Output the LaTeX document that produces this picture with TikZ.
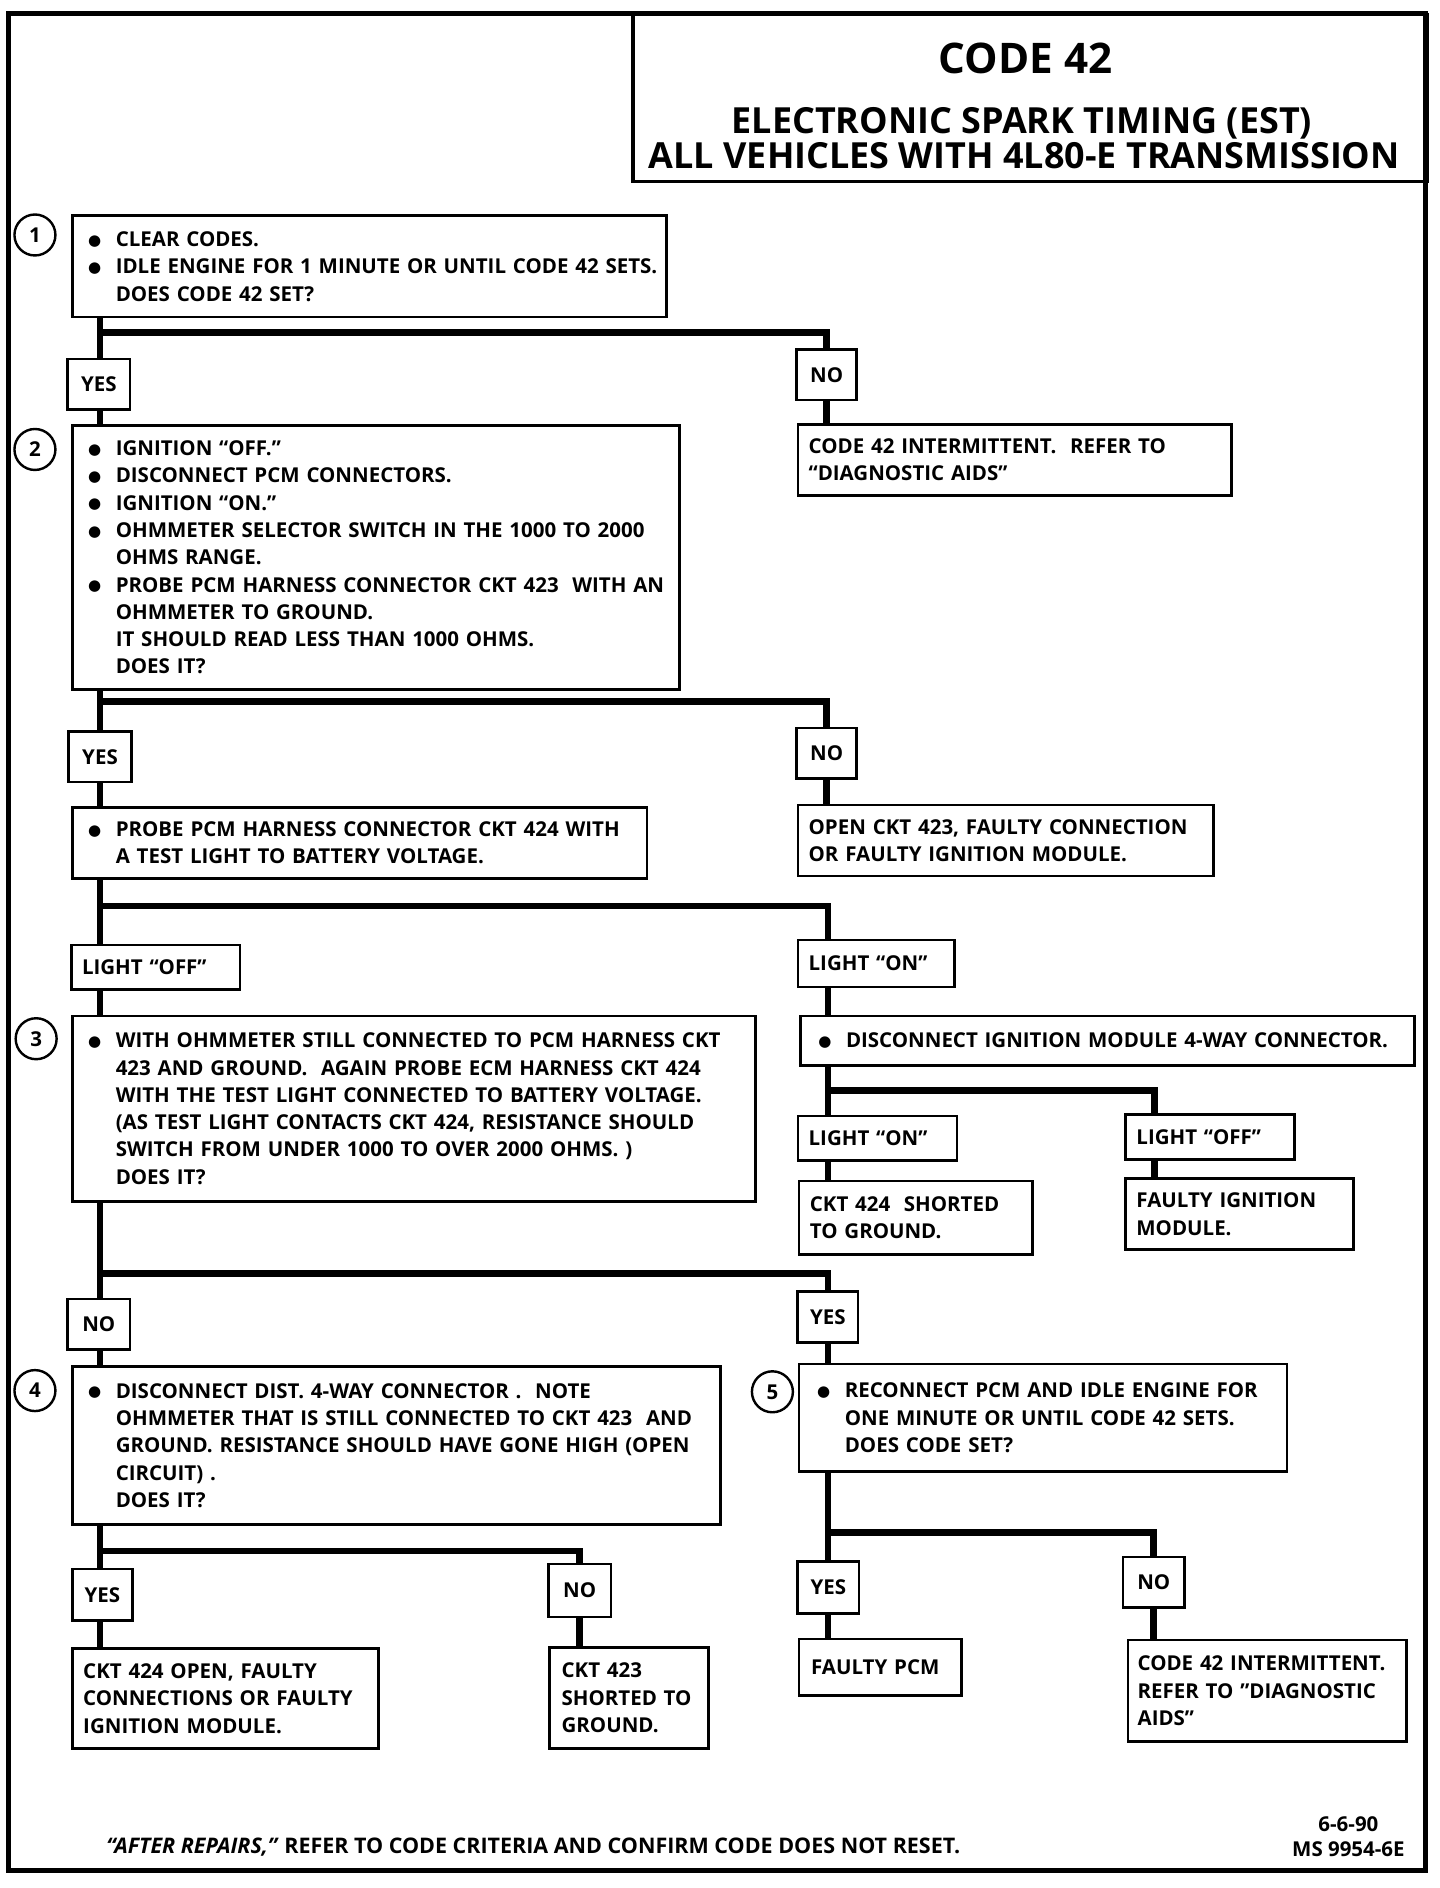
\documentclass[tikz,border=0pt]{standalone}
\usepackage{fontspec}
\setmainfont{Open Sans}
\newfontfamily\dejavu{DejaVu Sans}
\newcommand\bodyfont{\fontsize{10.2}{13.6}\selectfont\bfseries}
\newcommand\bigdot{\raisebox{0.6pt}{\dejavu\fontsize{7.5}{7.5}\selectfont ●}}
\newcommand\bl[1]{\mbox{\makebox[13.8pt][l]{\bigdot}#1}}
\newcommand\ct[1]{\mbox{\hspace*{13.8pt}#1}}
\tikzset{
 box/.style={draw, line width=1.3pt, rectangle, inner ysep=0pt, align=left, font=\bodyfont},
 lab/.style={draw, line width=1.3pt, rectangle, inner sep=0pt, align=center, font=\bodyfont},
 num/.style={draw, circle, line width=1.2pt, minimum size=20.4pt, inner sep=0pt, font=\bodyfont},
 conn/.style={line width=3.3pt, line cap=butt, line join=miter},
 frame/.style={line width=2.6pt},
}
% name, x1, y1, x2, y2, inset, text
\newcommand\mkbox[7]{%
 \pgfmathsetmacro\bw{(#4-#2)*0.6}\pgfmathsetmacro\bh{(#5-#3)*0.6}%
 \pgfmathsetmacro\tw{(#4-#2-2*#6)*0.6}\pgfmathsetmacro\ti{#6*0.6}%
 \node[box, anchor=north west, minimum width=\bw pt, minimum height=\bh pt,
   text width=\tw pt, inner xsep=\ti pt] (#1) at (#2,#3) {#7};}
\newcommand\mklab[6]{%
 \pgfmathsetmacro\bw{(#4-#2)*0.6}\pgfmathsetmacro\bh{(#5-#3)*0.6}%
 \node[lab, minimum width=\bw pt, minimum height=\bh pt] (#1) at ({(#2+#4)/2},{(#3+#5)/2}) {#6};}
\begin{document}
\begin{tikzpicture}[x=0.6pt,y=-0.6pt]
\useasboundingbox (0,0) rectangle (1195,1566.8);
% frame and title
\draw[frame] (7,11) rectangle (1183,1552);
\node[draw, line width=1.6pt, anchor=north west, minimum width={659*0.6pt}, minimum height={138*0.6pt}, inner sep=0pt] (titlebox) at (524,11) {};
\node[anchor=base, font=\fontsize{21}{24}\selectfont\bfseries] (t1) at (851,61) {CODE 42};
\node[anchor=base, font=\fontsize{17.9}{20}\selectfont\bfseries] (t2) at (848,110.5) {ELECTRONIC SPARK TIMING (EST)};
\node[anchor=base, font=\fontsize{17.9}{20}\selectfont\bfseries] (t3) at (850,139.5) {ALL VEHICLES WITH 4L80-E TRANSMISSION};

% step numbers
\node[num] (c1) at (29,195) {1};
\node[num] (c2) at (29,373) {2};
\node[num] (c3) at (30,862) {3};
\node[num] (c4) at (29,1154) {4};
\node[num] (c5) at (641,1155) {5};

% step boxes
\mkbox{b1}{59}{178}{552}{262}{13}{\bl{CLEAR CODES.}\\\bl{IDLE ENGINE FOR 1 MINUTE OR UNTIL CODE 42 SETS.}\\\ct{DOES CODE 42 SET?}}
\mkbox{b2}{59}{352}{563}{571}{13}{\bl{IGNITION “OFF.”}\\\bl{DISCONNECT PCM CONNECTORS.}\\\bl{IGNITION “ON.”}\\\bl{OHMMETER SELECTOR SWITCH IN THE 1000 TO 2000}\\\ct{OHMS RANGE.}\\\bl{PROBE PCM HARNESS CONNECTOR CKT 423\ \ WITH AN}\\\ct{OHMMETER TO GROUND.}\\\ct{IT SHOULD READ LESS THAN 1000 OHMS.}\\\ct{DOES IT?}}
\mkbox{b3}{59}{669}{536}{728}{13}{\bl{PROBE PCM HARNESS CONNECTOR CKT 424 WITH}\\\ct{A TEST LIGHT TO BATTERY VOLTAGE.}}
\mkbox{b4}{59}{842}{626}{996}{13}{\bl{WITH OHMMETER STILL CONNECTED TO PCM HARNESS CKT}\\\ct{423 AND GROUND.\ \ AGAIN PROBE ECM HARNESS CKT 424}\\\ct{WITH THE TEST LIGHT CONNECTED TO BATTERY VOLTAGE.}\\\ct{(AS TEST LIGHT CONTACTS CKT 424, RESISTANCE SHOULD}\\\ct{SWITCH FROM UNDER 1000 TO OVER 2000 OHMS. )}\\\ct{DOES IT?}}
\mkbox{b5}{663}{842}{1173}{883}{15}{\bl{DISCONNECT IGNITION MODULE 4-WAY CONNECTOR.}}
\mkbox{b6}{59}{1133}{597}{1264}{13}{\bl{DISCONNECT DIST. 4-WAY CONNECTOR .\ \ NOTE}\\\ct{OHMMETER THAT IS STILL CONNECTED TO CKT 423\ \ AND}\\\ct{GROUND. RESISTANCE SHOULD HAVE GONE HIGH (OPEN}\\\ct{CIRCUIT) .}\\\ct{DOES IT?}}
\mkbox{b7}{662}{1131}{1067}{1220}{15}{\bl{RECONNECT PCM AND IDLE ENGINE FOR}\\\ct{ONE MINUTE OR UNTIL CODE 42 SETS.}\\\ct{DOES CODE SET?}}

% result boxes
\mkbox{r1}{661}{351}{1021}{410}{9}{\mbox{CODE 42 INTERMITTENT.\ \ REFER TO}\\\mbox{“DIAGNOSTIC AIDS”}}
\mkbox{r2}{661}{667}{1006}{726}{9}{\mbox{OPEN CKT 423, FAULTY CONNECTION}\\\mbox{OR FAULTY IGNITION MODULE.}}
\mkbox{r3}{662}{979}{856}{1040}{9}{\mbox{CKT 424\ \ SHORTED}\\\mbox{TO GROUND.}}
\mkbox{r4}{933}{977}{1122}{1036}{9}{\mbox{FAULTY IGNITION}\\\mbox{MODULE.}}
\mkbox{r5}{59}{1367}{313}{1450}{9}{\mbox{CKT 424 OPEN, FAULTY}\\\mbox{CONNECTIONS OR FAULTY}\\\mbox{IGNITION MODULE.}}
\mkbox{r6}{455}{1366}{587}{1450}{10}{\mbox{CKT 423}\\\mbox{SHORTED TO}\\\mbox{GROUND.}}
\mkbox{r7}{662}{1359}{797}{1406}{10}{\mbox{FAULTY PCM}}
\mkbox{r8}{935}{1360}{1166}{1444}{8}{\mbox{CODE 42 INTERMITTENT.}\\\mbox{REFER TO "DIAGNOSTIC}\\\mbox{AIDS"}}

% answer labels
\mklab{y1}{56}{298}{108}{340}{YES}
\mklab{n1}{661}{290}{711}{332}{NO}
\mklab{y2}{57}{607}{109}{649}{YES}
\mklab{n2}{661}{604}{711}{646}{NO}
\mkbox{lo1}{58}{783}{198}{820}{9}{\mbox{LIGHT “OFF”}}
\mkbox{lon1}{661}{779}{791}{818}{9}{\mbox{LIGHT “ON”}}
\mkbox{lon2}{661}{925}{793}{962}{9}{\mbox{LIGHT “ON”}}
\mkbox{loff2}{933}{924}{1073}{961}{9}{\mbox{LIGHT “OFF”}}
\mklab{n3}{56}{1078}{108}{1120}{NO}
\mklab{y3}{662}{1072}{712}{1114}{YES}
\mklab{y4}{60}{1302}{110}{1345}{YES}
\mklab{n4}{455}{1298}{507}{1342}{NO}
\mklab{y5}{662}{1296}{713}{1339}{YES}
\mklab{n5}{932}{1292}{983}{1334}{NO}

% junction coordinates
\coordinate (jA) at (83,276);
\coordinate (jB) at (83,582);
\coordinate (jC) at (83,752);
\coordinate (jCr) at (687,752);
\coordinate (jD) at (687,905);
\coordinate (jDr) at (958,905);
\coordinate (jE) at (83,1057);
\coordinate (jF) at (83,1287);
\coordinate (jG) at (687,1272);

% connectors
\draw[conn] (b1.south -| jA) -- (y1.north -| jA);
\draw[conn] (jA) -| (n1.north);
\draw[conn] (y1.south -| jA) -- (b2.north -| jA);
\draw[conn] (n1.south) -- (r1.north -| n1.south);

\draw[conn] (b2.south -| jB) -- (y2.north -| jB);
\draw[conn] (jB) -| (n2.north);
\draw[conn] (y2.south -| jB) -- (b3.north -| jB);
\draw[conn] (n2.south) -- (r2.north -| n2.south);

\draw[conn] (b3.south -| jC) -- (lo1.north -| jC);
\draw[conn] (jC) -- (jCr) -- (lon1.north -| jCr);
\draw[conn] (lo1.south -| jC) -- (b4.north -| jC);
\draw[conn] (lon1.south -| jCr) -- (b5.north -| jCr);

\draw[conn] (b5.south -| jD) -- (lon2.north -| jD);
\draw[conn] (jD) -- (jDr) -- (loff2.north -| jDr);
\draw[conn] (lon2.south -| jD) -- (r3.north -| jD);
\draw[conn] (loff2.south -| jDr) -- (r4.north -| jDr);

\draw[conn] (b4.south -| jE) -- (n3.north -| jE);
\draw[conn] (jE) -| (y3.north);
\draw[conn] (n3.south -| jE) -- (b6.north -| jE);
\draw[conn] (y3.south) -- (b7.north -| y3.south);

\draw[conn] (b6.south -| jF) -- (y4.north -| jF);
\draw[conn] (jF) -| (n4.north);
\draw[conn] (y4.south -| jF) -- (r5.north -| jF);
\draw[conn] (n4.south) -- (r6.north -| n4.south);

\draw[conn] (b7.south -| jG) -- (y5.north -| jG);
\draw[conn] (jG) -| (n5.north);
\draw[conn] (y5.south -| jG) -- (r7.north -| jG);
\draw[conn] (n5.south) -- (r8.north -| n5.south);

% footer
\node[anchor=base west, font=\fontsize{10.7}{13}\selectfont\bfseries, inner sep=0pt] (foot) at (88,1538) {\textit{“AFTER REPAIRS,”} REFER TO CODE CRITERIA AND CONFIRM CODE DOES NOT RESET.};
\node[anchor=base, font=\bodyfont, inner sep=0pt] (date) at (1119,1520) {6-6-90};
\node[anchor=base, font=\bodyfont, inner sep=0pt] (ms) at (1119,1541) {MS 9954-6E};
\end{tikzpicture}
\end{document}
